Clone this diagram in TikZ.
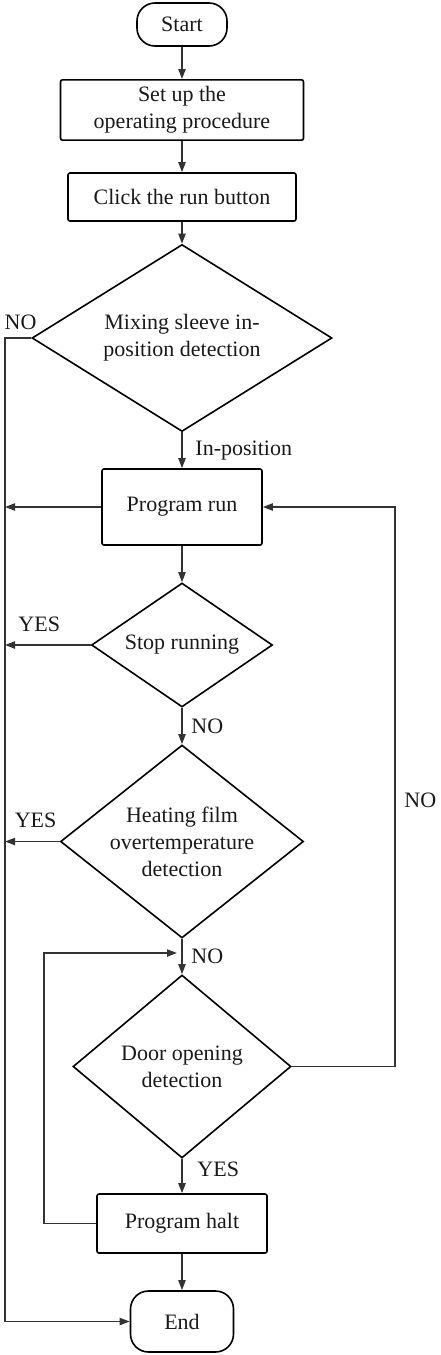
\documentclass[tikz,border=0pt]{standalone}
\usepackage{fontspec}
\setmainfont{Liberation Serif}
\usetikzlibrary{arrows.meta,shapes.geometric}

\begin{document}
\begin{tikzpicture}[x=0.5pt, y=-0.5pt, >={Triangle[length=5pt,width=3.6pt]},
  every node/.style={font=\fontsize{11}{13.5}\selectfont, text=black!90},
  procbox/.style={draw, rectangle, rounded corners=1pt, line width=0.8pt, align=center},
  termbox/.style={draw, rectangle, rounded corners=9pt, line width=0.8pt},
  decide/.style={draw, diamond, inner sep=0pt, line width=0.8pt, align=center},
  flow/.style={line width=0.8pt, draw=black!80}]
\useasboundingbox (0,0) rectangle (440,1355);

\node[termbox, minimum width=45pt, minimum height=21.5pt] (start) at (182,24.5) {Start};
\node[procbox, minimum width=121.5pt, minimum height=30pt] (setup) at (182,110) {Set up the\\operating procedure};
\node[procbox, minimum width=114pt, minimum height=24pt] (click) at (182,197) {Click the run button};
\node[decide, minimum width=150pt, minimum height=93.5pt, aspect=1.6] (sleeve) at (182,338) {Mixing sleeve in-\\position detection};
\node[procbox, minimum width=80pt, minimum height=38pt] (run) at (182,507) {Program run};
\node[decide, minimum width=90.5pt, minimum height=62pt, aspect=1.46] (stop) at (182,645) {Stop running};
\node[decide, minimum width=121.5pt, minimum height=96.5pt, aspect=1.26] (heat) at (182,841.5) {Heating film\\overtemperature\\detection};
\node[decide, minimum width=109pt, minimum height=91.5pt, aspect=1.19] (door) at (182,1066.5) {Door opening\\detection};
\node[procbox, minimum width=85pt, minimum height=29.5pt] (halt) at (182,1223.5) {Program halt};
\node[termbox, minimum width=51.5pt, minimum height=30.5pt] (finish) at (182,1321.5) {End};

\coordinate (lrail) at (5,338);
\coordinate (rrail) at (395,507);
\coordinate (hrail) at (44,953);
\coordinate (merge) at (177,953);

\draw[flow,->] (start) -- (setup);
\draw[flow,->] (setup) -- (click);
\draw[flow,->] (click) -- (sleeve);
\draw[flow,->] (sleeve) -- node[right=3pt] {In-position} (run);
\draw[flow,->] (sleeve.west) node[anchor=south east, inner sep=0pt, xshift=3pt, yshift=3.5pt] {NO} -- (lrail) |- (finish.west);
\draw[flow,->] (run.west) -- (run.west -| lrail);
\draw[flow,->] (run) -- (stop);
\draw[flow,->] (stop.west) -- node[above=3pt, pos=0.6] {YES} (stop.west -| lrail);
\draw[flow,->] (stop) -- node[right=1pt] {NO} (heat);
\draw[flow,->] (heat.west) -- node[above=3pt, pos=0.44] {YES} (heat.west -| lrail);
\draw[flow,->] (heat) -- node[right=1pt] {NO} (door);
\draw[flow,->] (door) -- node[right=4pt, pos=0.3] {YES} (halt);
\draw[flow,->] (door.east) -- (door.east -| rrail) -- node[right=1pt, pos=0.475] {NO} (rrail) -- (run.east);
\draw[flow,->] (halt.west) -- (halt.west -| hrail) -- (hrail) -- (merge);
\draw[flow,->] (halt) -- (finish);
\end{tikzpicture}
\end{document}
